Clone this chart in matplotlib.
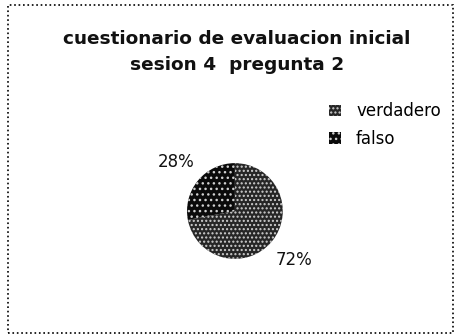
import matplotlib
matplotlib.use('Agg')
import matplotlib.pyplot as plt
from matplotlib.patches import Rectangle

# survey answers, session 4 question 2
labels = ['verdadero', 'falso']
values = [72, 28]
colors = ['#262626', '#0a0a0a']
hatches = ['....', '...']

title = 'cuestionario de evaluacion inicial\nsesion 4  pregunta 2'

fig = plt.figure(figsize=(4.57, 3.36), dpi=100)
fig.patch.set_facecolor('white')

# dotted frame round the whole chart
fig.patches.append(Rectangle((0.017, 0.01), 0.975, 0.975, transform=fig.transFigure,
                             fill=False, linestyle=':', linewidth=1.2, edgecolor='black'))

fig.text(0.519, 0.846, title, ha='center', va='center', fontsize=13.3,
         fontweight='bold', linespacing=1.58, color='#111111')

# pie axes, centre around (235, 210) px, radius about 48 px
ax = fig.add_axes([0.514 - 0.22, 0.372 - 0.30, 0.44, 0.60])
wedges, texts, autotexts = ax.pie(values, colors=colors, startangle=90, counterclock=False,
                                  autopct='%d%%', pctdistance=1.6,
                                  wedgeprops=dict(edgecolor='#cfcfcf', linewidth=0),
                                  textprops=dict(fontsize=12, color='#111111'))
for w, h in zip(wedges, hatches):
    w.set_hatch(h)
ax.set_xlim(-2.1, 2.1)
ax.set_ylim(-2.1, 2.1)
ax.set_aspect('equal')
ax.axis('off')

fig.legend(wedges, labels, loc='center left', bbox_to_anchor=(0.688, 0.628),
           frameon=False, fontsize=12, handlelength=0.7, handleheight=0.7,
           handletextpad=0.9, labelspacing=0.55)

fig.savefig('out.png', dpi=100)
